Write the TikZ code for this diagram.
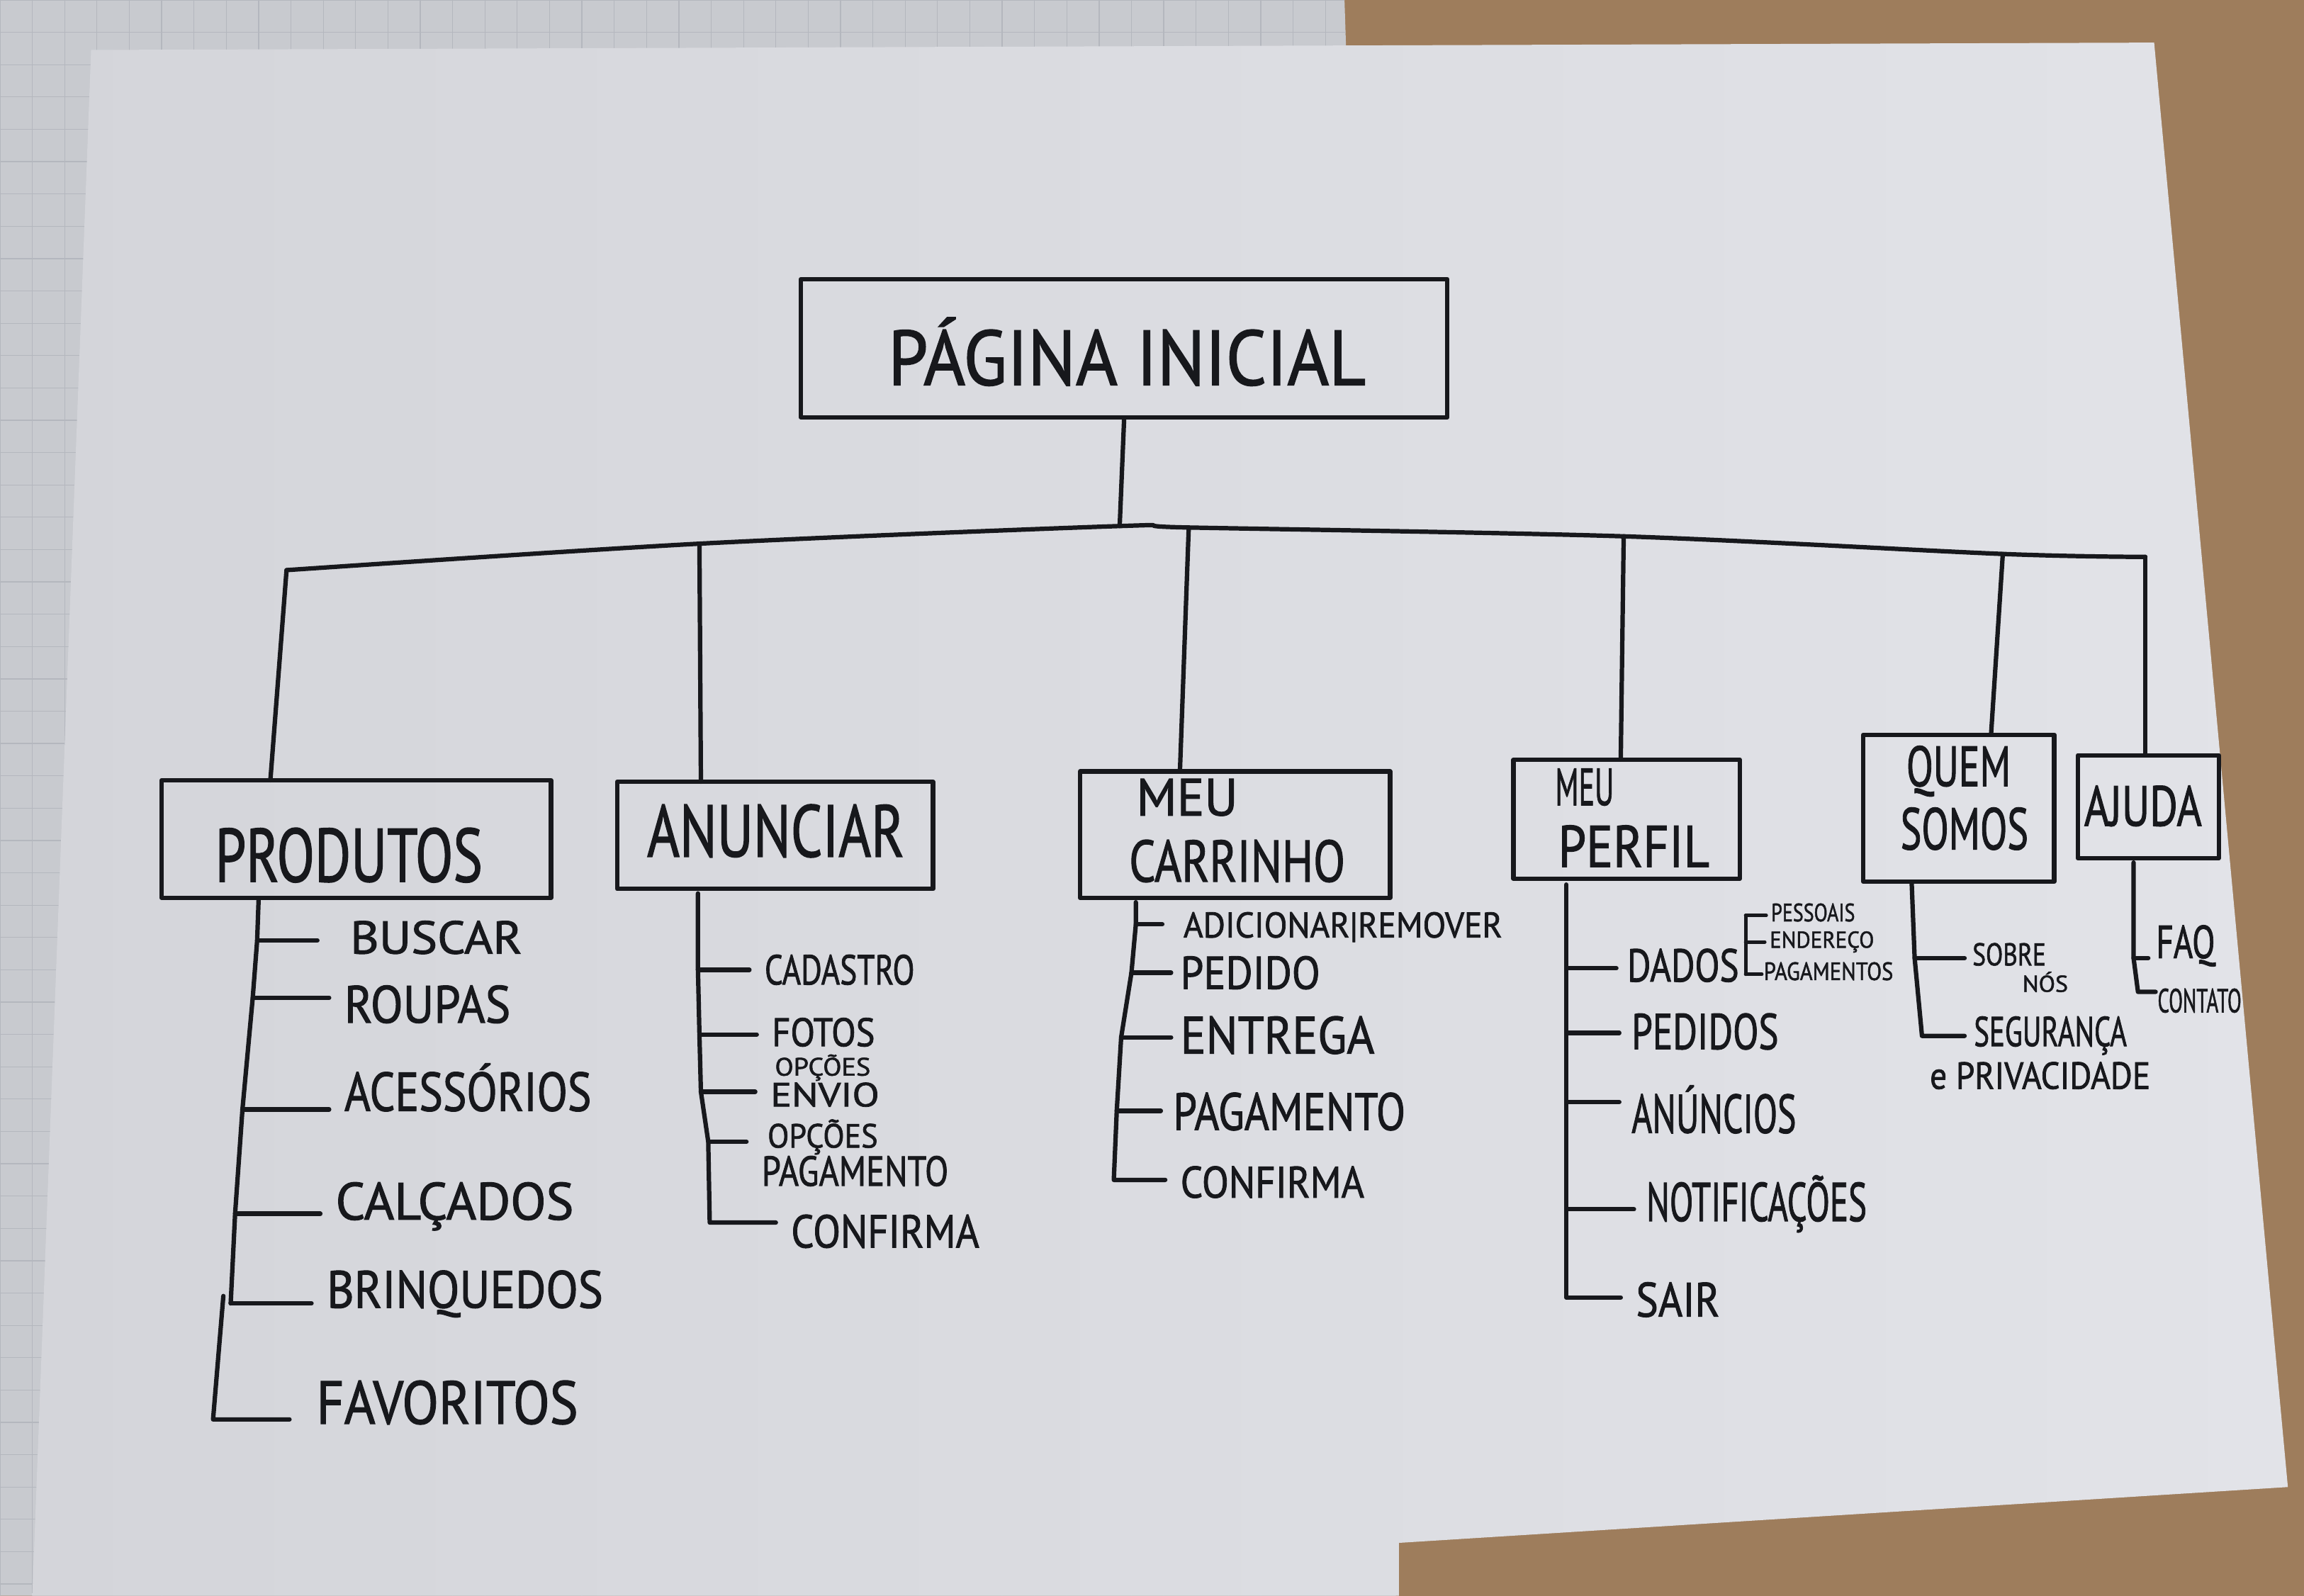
\documentclass[tikz,border=0pt]{standalone}
\usepackage{fontspec}
\usepackage{graphicx}
\setmainfont{PT Sans}[FakeBold=1.5]
\definecolor{inkc}{HTML}{17181C}
\definecolor{woodc}{HTML}{9E7D5C}
\definecolor{padc}{HTML}{C8CACF}
\definecolor{gridc}{HTML}{B4B7BE}
\definecolor{sheetl}{HTML}{D4D5DA}
\definecolor{sheetr}{HTML}{E2E3E8}
% one drawing unit = 0.5pt; label boxes are scaled to a given width and cap height
\newlength\pxu
\setlength\pxu{0.5pt}
\newcommand\hw[3]{\resizebox{#1\pxu}{#2\pxu}{\smash{#3}\vphantom{X}}}
\begin{document}
\begin{tikzpicture}[x=0.5pt,y=-0.5pt,
  ink/.style={draw=inkc,line width=1.5pt,line cap=round,line join=round},
  box/.style={ink,rectangle,inner sep=0pt},
  lbl/.style={anchor=base west,inner sep=0pt,text=inkc},
  lblc/.style={anchor=base,inner sep=0pt,text=inkc},
  br/.style={ink,shorten >=5pt}]
\useasboundingbox (0,0) rectangle (1568,1086);

% desk, notebook underneath and the sheet
\fill[woodc] (0,0) rectangle (1568,1086);
\fill[padc] (0,0) -- (915,0) -- (950,1086) -- (0,1086) -- cycle;
\begin{scope}
  \clip (0,0) -- (915,0) -- (950,1086) -- (0,1086) -- cycle;
  \draw[gridc,line width=0.3pt] (0,0) grid[step=11pt] (1568,1086);
\end{scope}
\shade[left color=sheetl,right color=sheetr]
  (62,34) -- (1466,29) -- (1557,1012) -- (952,1050) -- (952,1086) -- (22,1086) -- cycle;

% boxes
\node[box,minimum width=220pt,minimum height=47pt] (root) at (765,237) {};
\node[box,minimum width=132.5pt,minimum height=40pt] (prod) at (242.5,571) {};
\node[box,minimum width=107.5pt,minimum height=36.5pt] (anun) at (527.5,568.5) {};
\node[box,minimum width=105.5pt,minimum height=43pt] (carr) at (840.5,568) {};
\node[box,minimum width=77pt,minimum height=40.5pt] (perf) at (1107,557.5) {};
\node[box,minimum width=65pt,minimum height=50pt] (quem) at (1333,550) {};
\node[box,minimum width=48pt,minimum height=35pt] (ajuda) at (1462,549) {};

% box titles
\node[lblc] (rootT) at (767,262) {\hw{325}{37}{PÁGINA INICIAL}};
\node[lbl] (prodT) at (146,600) {\hw{182}{36}{PRODUTOS}};
\node[lbl] (anunT) at (440,583) {\hw{175}{35}{ANUNCIAR}};
\node[lbl] (carrTa) at (773,555) {\hw{69}{25}{MEU}};
\node[lbl] (carrTb) at (768,600) {\hw{147}{28}{CARRINHO}};
\node[lbl] (perfTa) at (1058,548) {\hw{40}{25}{MEU}};
\node[lbl] (perfTb) at (1060,590) {\hw{103}{28}{PERFIL}};
\node[lbl] (quemTa) at (1297,535) {\hw{71}{27}{QUEM}};
\node[lbl] (quemTb) at (1293,578) {\hw{87}{28}{SOMOS}};
\node[lbl] (ajudaT) at (1418,562) {\hw{80}{27}{AJUDA}};

% bus from the root to the sections
\coordinate (B0) at (195,388);
\coordinate (B1) at (476,370);
\coordinate (B2) at (762,358);
\coordinate (B3) at (809,359);
\coordinate (B4) at (1105,365);
\coordinate (B5) at (1363,377);
\coordinate (B6) at (1460,379);
\draw[ink] (root.south) -- (B2);
\draw[ink] plot[smooth,tension=0.5] coordinates {(B0) (B1) (B2) (B3) (B4) (B5) (B6)};

\coordinate (D0) at (184,531);
\coordinate (D1) at (477,532);
\coordinate (D2) at (803,525);
\coordinate (D3) at (1103,517);
\coordinate (D4) at (1355,500);
\coordinate (D5) at (1460,514);
\draw[ink] (B0) -- (D0);
\draw[ink] (B1) -- (D1);
\draw[ink] (B3) -- (D2);
\draw[ink] (B4) -- (D3);
\draw[ink] (B5) -- (D4);
\draw[ink] (B6) -- (D5);

% PRODUTOS
\node[lbl] (buscar) at (238,649) {\hw{117}{22}{BUSCAR}};
\node[lbl] (roupas) at (234,696) {\hw{113}{25}{ROUPAS}};
\node[lbl] (acess) at (234,756) {\hw{168}{26}{ACESSÓRIOS}};
\node[lbl] (calc) at (228,830) {\hw{162}{25}{CALÇADOS}};
\node[lbl] (brinq) at (222,890) {\hw{188}{25}{BRINQUEDOS}};
\node[lbl] (favor) at (215,969) {\hw{178}{29}{FAVORITOS}};
\coordinate (r0) at (176,612);
\coordinate (r1) at (175,640);
\coordinate (r2) at (172,679);
\coordinate (r3) at (165,755);
\coordinate (r4) at (160,826);
\coordinate (r5) at (157,887);
\coordinate (r6) at (152,882);
\coordinate (r7) at (145,966);
\draw[ink] (r0) -- (r1) -- (r2) -- (r3) -- (r4) -- (r5);
\draw[br,shorten >=11pt] (r1) -- (r1 -| buscar.west);
\draw[br] (r2) -- (r2 -| roupas.west);
\draw[br] (r3) -- (r3 -| acess.west);
\draw[br] (r4) -- (r4 -| calc.west);
\draw[br] (r5) -- (r5 -| brinq.west);
\draw[br,shorten >=9pt] (r6) -- (r7) -- (r7 -| favor.west);

% ANUNCIAR
\node[lbl] (cadas) at (520,670) {\hw{102}{20}{CADASTRO}};
\node[lbl] (fotos) at (525,712) {\hw{70}{19}{FOTOS}};
\node[lbl] (opcA) at (527,732) {\hw{65}{12}{OPÇÕES}};
\node[lbl] (envio) at (524,753) {\hw{74}{16}{ENVIO}};
\node[lbl] (opcB) at (522,781) {\hw{75}{16}{OPÇÕES}};
\node[lbl] (pagA) at (518,807) {\hw{127}{20}{PAGAMENTO}};
\node[lbl] (confA) at (538,849) {\hw{128}{22}{CONFIRMA}};
\coordinate (a0) at (475,608);
\coordinate (a1) at (475,660);
\coordinate (a2) at (476,704);
\coordinate (a3) at (477,743);
\coordinate (a4) at (482,777);
\coordinate (a5) at (483,832);
\draw[br] (a0) -- (a1) -- (a2) -- (a3) -- (a4) -- (a5) -- (a5 -| confA.west);
\draw[br] (a1) -- (a1 -| cadas.west);
\draw[br] (a2) -- (a2 -| fotos.west);
\draw[br] (a3) -- (a3 -| envio.west);
\draw[br,shorten >=7pt] (a4) -- (a4 -| opcB.west);

% MEU CARRINHO
\node[lbl] (adic) at (805,638) {\hw{217}{17}{ADICIONAR\textbar REMOVER}};
\node[lbl] (pedA) at (803,673) {\hw{95}{22}{PEDIDO}};
\node[lbl] (entr) at (803,717) {\hw{132}{25}{ENTREGA}};
\node[lbl] (pagB) at (798,769) {\hw{158}{25}{PAGAMENTO}};
\node[lbl] (confB) at (803,815) {\hw{125}{21}{CONFIRMA}};
\coordinate (c0) at (773,614);
\coordinate (c1) at (773,629);
\coordinate (c2) at (770,662);
\coordinate (c3) at (763,706);
\coordinate (c4) at (760,756);
\coordinate (c5) at (758,803);
\draw[br] (c0) -- (c1) -- (c2) -- (c3) -- (c4) -- (c5) -- (c5 -| confB.west);
\draw[br,shorten >=7pt] (c1) -- (c1 -| adic.west);
\draw[br,shorten >=3pt] (c2) -- (c2 -| pedA.west);
\draw[br,shorten >=3pt] (c3) -- (c3 -| entr.west);
\draw[br,shorten >=4pt] (c4) -- (c4 -| pagB.west);

% MEU PERFIL
\node[lbl] (dados) at (1107,668) {\hw{76}{22}{DADOS}};
\node[lbl] (pess) at (1205,627) {\hw{57}{12}{PESSOAIS}};
\node[lbl] (ender) at (1204,645) {\hw{71}{11}{ENDEREÇO}};
\node[lbl] (pagC) at (1200,667) {\hw{88}{12}{PAGAMENTOS}};
\node[lbl] (pedB) at (1110,714) {\hw{100}{24}{PEDIDOS}};
\node[lbl] (anunc) at (1110,771) {\hw{112}{26}{ANÚNCIOS}};
\node[lbl] (notif) at (1120,831) {\hw{150}{26}{NOTIFICAÇÕES}};
\node[lbl] (sair) at (1113,896) {\hw{57}{23}{SAIR}};
\coordinate (p0) at (1066,602);
\coordinate (p1) at (1066,659);
\coordinate (p2) at (1066,703);
\coordinate (p3) at (1066,750);
\coordinate (p4) at (1066,823);
\coordinate (p5) at (1066,883);
\draw[br] (p0) -- (p1) -- (p2) -- (p3) -- (p4) -- (p5) -- (p5 -| sair.west);
\draw[br,shorten >=3.5pt] (p1) -- (p1 -| dados.west);
\draw[br,shorten >=4pt] (p2) -- (p2 -| pedB.west);
\draw[br,shorten >=4pt] (p3) -- (p3 -| anunc.west);
\draw[br,shorten >=4pt] (p4) -- (p4 -| notif.west);
\coordinate (k1) at (1188,623);
\coordinate (k2) at (1188,641);
\coordinate (k3) at (1188,663);
\draw[ink,line width=1.2pt] (k1) -- (k3);
\draw[ink,line width=1.2pt,shorten >=1.5pt] (k1) -- (k1 -| pess.west);
\draw[ink,line width=1.2pt,shorten >=1.5pt] (k2) -- (k2 -| ender.west);
\draw[ink,line width=1.2pt,shorten >=0.5pt] (k3) -- (k3 -| pagC.west);

% QUEM SOMOS
\node[lbl] (sobre) at (1342,657) {\hw{50}{15}{SOBRE}};
\node[lbl] (nos) at (1376,675) {\hw{31}{11}{NÓS}};
\node[lbl] (segur) at (1343,712) {\hw{104}{20}{SEGURANÇA}};
\node[lbl] (priv) at (1313,741) {\hw{150}{18}{e PRIVACIDADE}};
\coordinate (q0) at (1301,601);
\coordinate (q1) at (1303,652);
\coordinate (q2) at (1308,705);
\draw[br,shorten >=3pt] (q0) -- (q1) -- (q2) -- (q2 -| segur.west);
\draw[br,shorten >=2.5pt] (q1) -- (q1 -| sobre.west);

% AJUDA
\node[lbl] (faq) at (1467,652) {\hw{40}{22}{FAQ}};
\node[lbl] (cont) at (1468,689) {\hw{57}{16}{CONTATO}};
\coordinate (j0) at (1452,587);
\coordinate (j1) at (1452,652);
\coordinate (j2) at (1455,675);
\draw[br,shorten >=0.5pt] (j0) -- (j1) -- (j2) -- (j2 -| cont.west);
\draw[br,shorten >=2.5pt] (j1) -- (j1 -| faq.west);
\end{tikzpicture}
\end{document}
